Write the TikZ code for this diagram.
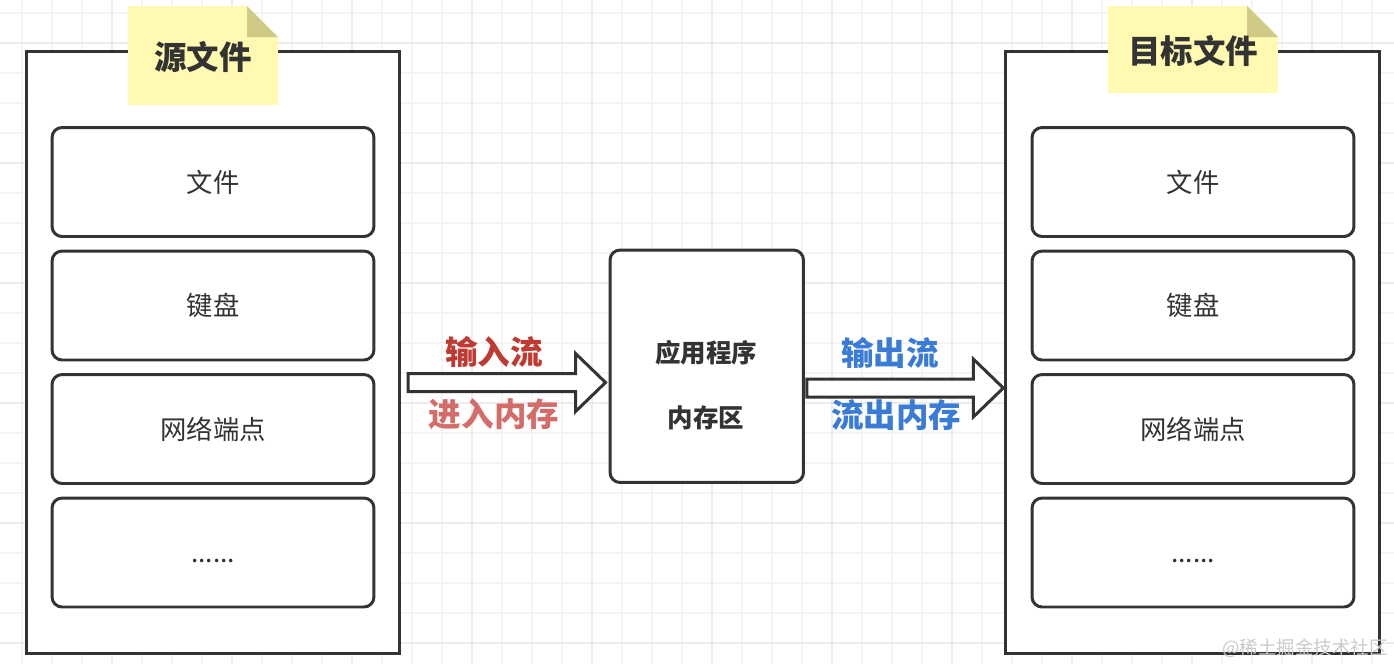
\documentclass[tikz,border=0pt]{standalone}
\usepackage{fontspec}
\setmainfont{Noto Sans CJK SC}
\usetikzlibrary{calc}
\definecolor{StreamLine}{HTML}{333333}
\definecolor{StreamGrid}{HTML}{F4F4F4}
\definecolor{StreamGridMajor}{HTML}{ECECEC}
\definecolor{StreamNote}{HTML}{FFF9B1}
\definecolor{StreamFold}{HTML}{CFCB87}
\definecolor{StreamInDark}{HTML}{BF3A32}
\definecolor{StreamInLight}{HTML}{D46C69}
\definecolor{StreamOut}{HTML}{3A7BD5}
\definecolor{StreamMark}{HTML}{CACACA}

\begin{document}
\begin{tikzpicture}[x=0.02cm,y=-0.02cm,
    outerbox/.style={draw=StreamLine,line width=1.7pt,fill=white,inner sep=0pt,
      minimum width=7.47cm,minimum height=12.04cm},
    itembox/.style={draw=StreamLine,line width=1.7pt,fill=white,inner sep=0pt,
      rounded corners=0.2cm,minimum width=6.44cm,minimum height=2.18cm,
      text=StreamLine,font=\fontsize{15}{18}\selectfont},
    appbox/.style={draw=StreamLine,line width=1.7pt,fill=white,inner sep=0pt,
      rounded corners=0.2cm,minimum width=3.87cm,minimum height=4.65cm},
    apptext/.style={text=StreamLine,font=\fontsize{14.5}{18}\selectfont\bfseries},
    notetext/.style={text=StreamLine,font=\fontsize{18.5}{22}\selectfont\bfseries},
    flowtext/.style={font=\fontsize{18.5}{22}\selectfont\bfseries},
    bigarrow/.style={draw=StreamLine,line width=1.7pt,fill=white,line join=miter}]
  \useasboundingbox (0,0) rectangle (1394,664);
  \fill[white] (0,0) rectangle (1394,664);
  % grid
  \foreach \gx in {22,52,...,1394} \draw[StreamGrid,line width=0.6pt] (\gx,0) -- (\gx,664);
  \foreach \gy in {13,43,...,664} \draw[StreamGrid,line width=0.6pt] (0,\gy) -- (1394,\gy);
  \foreach \gx in {112,232,...,1394} \draw[StreamGridMajor,line width=0.7pt] (\gx,0) -- (\gx,664);
  \foreach \gy in {43,163,...,664} \draw[StreamGridMajor,line width=0.7pt] (0,\gy) -- (1394,\gy);

  % source side
  \node[outerbox] (srcbox) at (213,352.5) {};
  \node[itembox] (srcfile) at (213,182) {\vphantom{文}文件};
  \node[itembox] (srckey) at (213,305.5) {键盘};
  \node[itembox] (srcnet) at (213,429) {网络端点};
  \node[itembox] (srcmore) at (213,552.5) {\vphantom{文}......};
  \fill[StreamNote] (128,6) -- (247,6) -- (278,37) -- (278,105) -- (128,105) -- cycle;
  \fill[StreamFold] (247,6) -- (278,37) -- (247,37) -- cycle;
  \node[notetext] (srcnote) at (203,57) {源文件};

  % target side
  \node[outerbox] (dstbox) at (1192.5,352.5) {};
  \node[itembox] (dstfile) at (1193,182) {\vphantom{文}文件};
  \node[itembox] (dstkey) at (1193,305.5) {键盘};
  \node[itembox] (dstnet) at (1193,429) {网络端点};
  \node[itembox] (dstmore) at (1193,552.5) {\vphantom{文}......};
  \fill[StreamNote] (1108,6) -- (1247,6) -- (1278,37) -- (1278,93) -- (1108,93) -- cycle;
  \fill[StreamFold] (1247,6) -- (1278,37) -- (1247,37) -- cycle;
  \node[notetext] (dstnote) at (1193,51) {目标文件};

  % application
  \node[appbox] (app) at (706.75,366.25) {};
  \node[apptext] (appname) at (706,353) {应用程序};
  \node[apptext] (appmem) at (706,418) {内存区};

  % streams
  \coordinate (inA) at ($(srcbox.east)+(7,30)$);
  \coordinate (inB) at ($(app.west |- inA)+(-3,0)$);
  \draw[bigarrow] ($(inA)+(0,-9)$) -- ($(inB)+(-30,-9)$) -- ($(inB)+(-30,-29)$) -- (inB)
    -- ($(inB)+(-30,29)$) -- ($(inB)+(-30,9)$) -- ($(inA)+(0,9)$) -- cycle;
  \coordinate (outA) at ($(app.east)+(2,21.75)$);
  \coordinate (outB) at ($(dstbox.west |- outA)+(-1,0)$);
  \draw[bigarrow] ($(outA)+(0,-9)$) -- ($(outB)+(-30,-9)$) -- ($(outB)+(-30,-29)$) -- (outB)
    -- ($(outB)+(-30,29)$) -- ($(outB)+(-30,9)$) -- ($(outA)+(0,9)$) -- cycle;
  \node[flowtext,text=StreamInDark] (inlabel) at (494,352) {输入流};
  \node[flowtext,text=StreamInLight] (inmem) at (494,414) {进入内存};
  \node[flowtext,text=StreamOut] (outlabel) at (890,353) {输出流};
  \node[flowtext,text=StreamOut] (outmem) at (896,415) {流出内存};

  \node[text=StreamMark,font=\fontsize{10.5}{12}\selectfont] (mark) at (1305,648) {@稀土掘金技术社区};
\end{tikzpicture}
\end{document}
